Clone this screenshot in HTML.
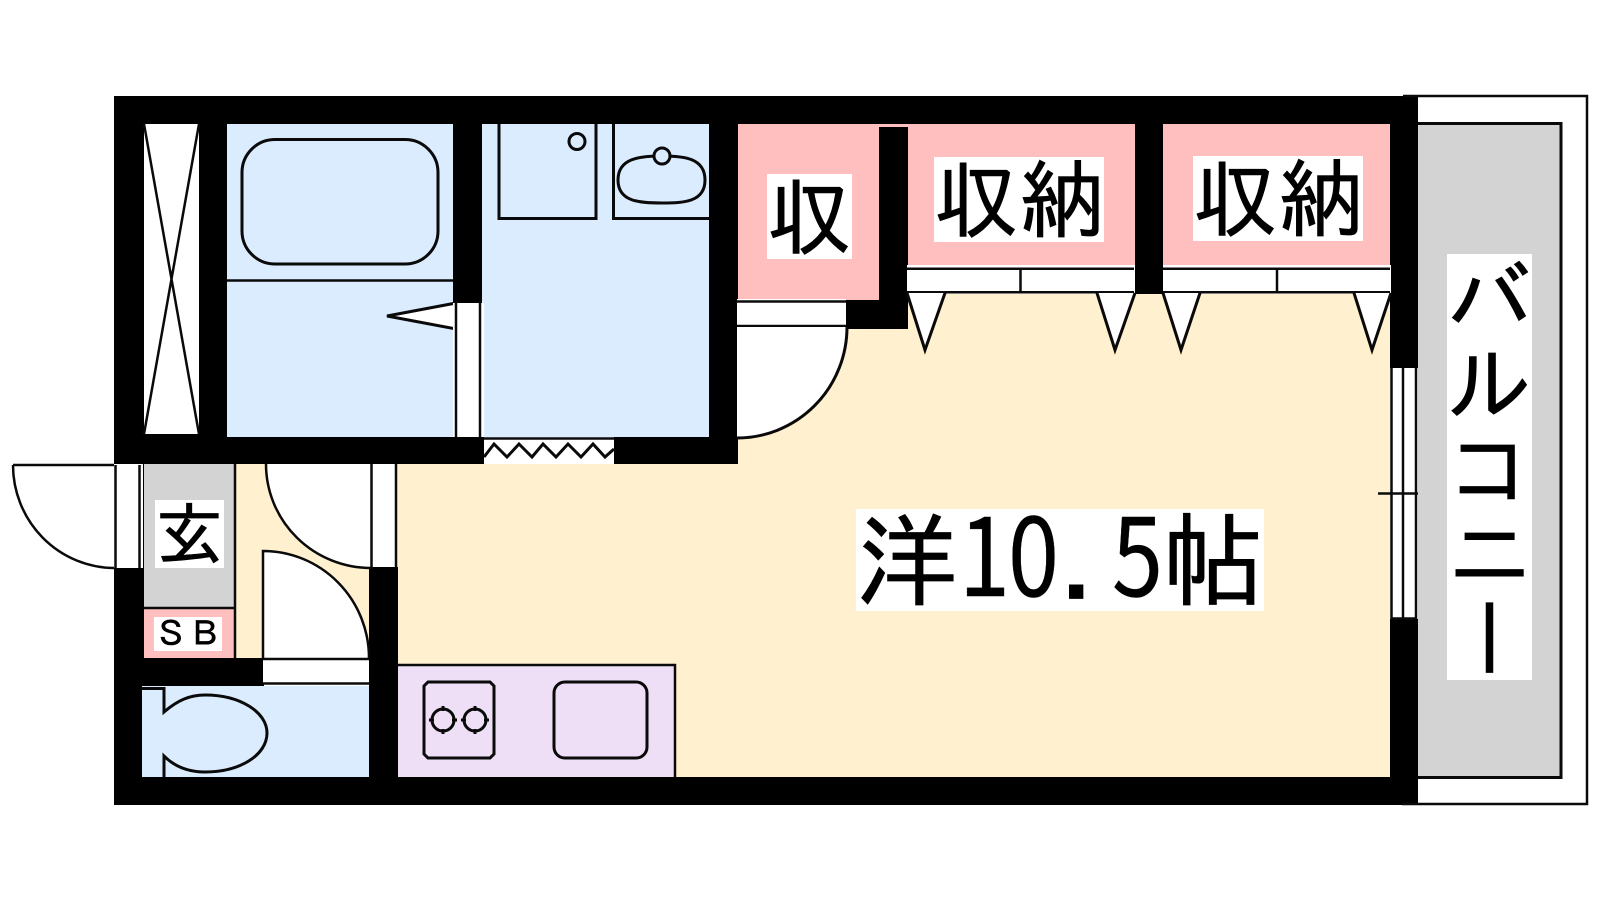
<!DOCTYPE html>
<html lang="ja">
<head>
<meta charset="utf-8">
<style>
html,body{margin:0;padding:0;background:#fff;width:1600px;height:900px;overflow:hidden}
svg{position:absolute;left:0;top:0}
.t{position:absolute;background:#fff;color:#000;text-align:center;white-space:nowrap;overflow:hidden;
font-family:"Liberation Sans","IPAGothic","Noto Sans CJK JP",sans-serif}
.j{font-family:"IPAGothic","Noto Sans CJK JP",sans-serif;-webkit-text-stroke:.7px #000}
.t span{position:absolute;top:0;line-height:102px}
.t span.d{font-family:"Noto Sans CJK JP",sans-serif;font-size:108px;-webkit-text-stroke:.4px #000;top:-10px;transform:scaleX(.85);transform-origin:0 0}
</style>
</head>
<body>
<svg width="1600" height="900" viewBox="0 0 1600 900" fill="none" stroke-linecap="butt">
<!-- room fills -->
<rect x="144" y="124" width="55" height="310" fill="#fff"/>
<rect x="227" y="124" width="227" height="313" fill="#dbecff"/>
<rect x="482" y="124" width="228" height="313" fill="#dbecff"/>
<rect x="738" y="294" width="654" height="484" fill="#fff1cf"/>
<rect x="738" y="124" width="170" height="176" fill="#ffbfbf"/>
<rect x="908" y="124" width="228" height="141" fill="#ffbfbf"/>
<rect x="1163" y="124" width="228" height="141" fill="#ffbfbf"/>
<rect x="397" y="464" width="342" height="314" fill="#fff1cf"/>
<rect x="235" y="464" width="135" height="195" fill="#fff1cf"/>
<rect x="144" y="464" width="90" height="144" fill="#d3d3d3"/>
<rect x="144" y="608" width="90" height="51" fill="#ffbfbf"/>
<rect x="142" y="686" width="228" height="92" fill="#dbecff"/>
<!-- walls -->
<g fill="#000">
<rect x="114" y="96" width="1304" height="28"/>
<rect x="114" y="96" width="30" height="590"/>
<rect x="114" y="686" width="28" height="119"/>
<rect x="114" y="777" width="1304" height="28"/>
<rect x="1390" y="96" width="28" height="707"/>
<rect x="199" y="96" width="28" height="368"/>
<rect x="453" y="96" width="29" height="368"/>
<rect x="709" y="96" width="29" height="368"/>
<rect x="114" y="437" width="624" height="27"/>
<rect x="114" y="434" width="113" height="30"/>
<rect x="879" y="127" width="29" height="202"/>
<rect x="846" y="300" width="62" height="29"/>
<rect x="1135" y="96" width="28" height="198"/>
<rect x="369" y="567" width="29" height="212"/>
<rect x="143" y="658" width="121" height="28"/>
</g>
<g stroke="#0a0a0a" stroke-width="2.500">
<!-- closet X -->
<path d="M144,124L199,434M199,124L144,434" />
<!-- bath -->
<path d="M227,280.500H453"/>
<rect x="242" y="139.500" width="196" height="124.500" rx="33" ry="33" stroke-width="3"/>
<path d="M456,303L387,316L456,329Z" fill="#fff" stroke-width="3"/>
<rect x="453" y="303" width="31" height="134" fill="#fff" stroke="none"/>
<path d="M456,303V437M480,303V437"/>
<!-- washroom -->
<path d="M499,124V218.500H596V124M613.500,124V218.500H709" stroke-width="3"/>
<circle cx="577" cy="141.500" r="8" stroke-width="3"/>
<path d="M662,156C640,156 618,158 618,180C618,202 640,203 662,203C684,203 705,202 705,180C705,158 684,156 662,156Z" stroke-width="3"/>
<circle cx="662" cy="156" r="8" fill="#dbecff" stroke-width="3"/>
<!-- accordion -->
<rect x="484" y="437" width="130" height="27" fill="#fff" stroke="none"/>
<path d="M484,438.500H614" />
<path d="M484,457L494,444L507,457L519,444L532,457L543,444L556,457L568,444L581,457L593,444L605,457L614,449" stroke-width="3"/>
<!-- closet door -->
<rect x="737" y="299" width="109" height="28" fill="#fff" stroke="none"/>
<path d="M737,301.500H846M737,326H846"/>
<path d="M847,327A110,111 0 0 1 737,438V327Z" fill="#fff" stroke="none"/>
<path d="M847,327A110,111 0 0 1 737,438" stroke-width="3"/>
<!-- storage doors -->
<rect x="907" y="265" width="228" height="29" fill="#fff" stroke="none"/>
<rect x="1163" y="265" width="228" height="29" fill="#fff" stroke="none"/>
<path d="M907,268.700H1134M907,292.300H1134M1020.500,268V292M1163,268.700H1390M1163,292.300H1390M1277,268V292"/>
<g fill="#fff" stroke-width="3">
<path d="M907,293L925,350L945,293"/>
<path d="M1097,293L1115,350L1135,293"/>
<path d="M1163,293L1181,350L1200,293"/>
<path d="M1354,293L1372,350L1391,293"/>
</g>
<!-- window -->
<rect x="1390" y="368" width="28" height="251" fill="#fff" stroke="none"/>
<path d="M1391.500,368V619M1403,368V619M1416,368V619M1391,618.500H1416M1378,493.500H1430"/>
<!-- entrance door -->
<rect x="114" y="464" width="29" height="104" fill="#fff" stroke="none"/>
<path d="M115.500,465V568M139.500,465V568"/>
<path d="M13,465A102,103 0 0 0 114,568V465Z" fill="#fff" stroke="none"/>
<path d="M13,465H114M13,465A102,103 0 0 0 114,568"/>
<!-- SB / gray -->
<path d="M144,608H235M235,464V658"/>
<!-- inner door top -->
<path d="M266,464A105,104 0 0 0 371,568V464Z" fill="#fff" stroke="none"/>
<path d="M266,464A105,104 0 0 0 371,568"/>
<rect x="371" y="464" width="26" height="103" fill="#fff" stroke="none"/>
<path d="M371.500,464V568M396,464V568"/>
<!-- inner door lower -->
<path d="M263,551A106,107 0 0 1 369,658H263Z" fill="#fff" stroke="none"/>
<path d="M263,658V551A106,107 0 0 1 369,658"/>
<rect x="263" y="659" width="106" height="25" fill="#fff" stroke="none"/>
<path d="M263,659H369M263,683.500H369"/>
<!-- toilet -->
<path d="M142,688.500H164V712C178,700 190,695 205,695C240,695 267,712 267,733C267,755 240,772 205,772C190,772 176,768 164,756V777" stroke-width="3"/>
<!-- kitchen -->
<rect x="398" y="664" width="277" height="113" fill="#eedff7" stroke="none"/>
<path d="M398,665H675V777" />
<path d="M428,682H490L494,686V754L490,758H428L424,754V686Z" stroke-width="3"/>
<circle cx="443" cy="720" r="11" stroke-width="3"/>
<circle cx="475" cy="720" r="11" stroke-width="3"/>
<path d="M429,720H434M452,720H457M443,706V711M443,729V734M461,720H466M484,720H489M475,706V711M475,729V734" stroke-width="3"/>
<rect x="554" y="682" width="93" height="76" rx="11" ry="11" stroke-width="3"/>
<!-- balcony -->
<rect x="1418" y="123" width="143" height="654" fill="#d3d3d3" stroke="none"/>
<path d="M1418,123.500H1561V777.500H1418" stroke-width="3"/>
<path d="M1403,96H1587V804H1402" />
</g>
</svg>

<div class="t j" style="left:767px;top:174px;width:85px;height:85px;font-size:85px;line-height:85px">収</div>
<div class="t j" style="left:934px;top:157px;width:170px;height:85px;font-size:85px;line-height:85px">収納</div>
<div class="t j" style="left:1193px;top:156px;width:170px;height:85px;font-size:85px;line-height:85px">収納</div>
<div class="t j" style="left:155px;top:500px;width:69px;height:68px;font-size:68px;line-height:68px">玄</div>
<div class="t j" style="left:154px;top:617px;width:68px;height:34px;font-size:34px;line-height:34px">ＳＢ</div>
<div class="t j" style="left:856px;top:509px;width:408px;height:102px;font-size:102px;line-height:102px">
<span style="left:0">洋</span><span class="d" style="left:103px">1</span><span class="d" style="left:152px">0</span><span style="left:204px">.</span><span class="d" style="left:256px">5</span><span style="left:306px">帖</span>
</div>
<div class="t j" style="left:1447px;top:254px;width:85px;height:426px;font-size:85px;line-height:85px;writing-mode:vertical-rl;text-orientation:upright">バルコニー</div>
</body>
</html>
